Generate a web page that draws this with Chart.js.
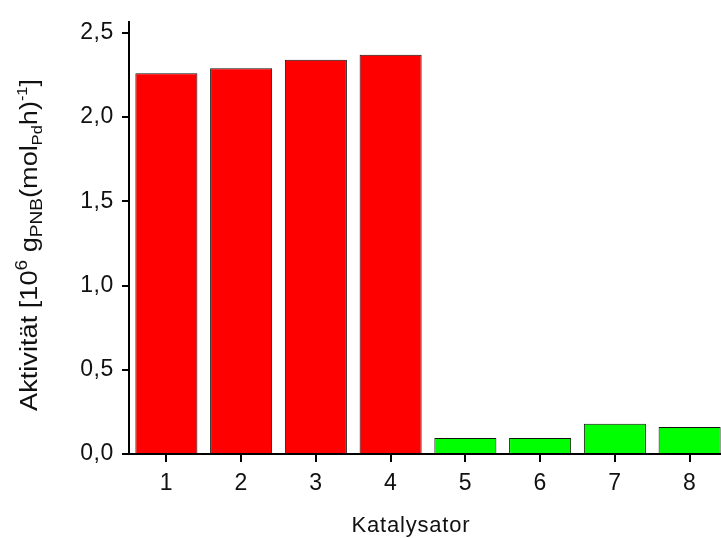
<!DOCTYPE html>
<html>
<head>
<meta charset="utf-8">
<script src="https://cdn.jsdelivr.net/npm/chart.js@4"></script>
<style>
  html, body { margin: 0; padding: 0; background: #fff; overflow: hidden; }
  canvas { display: block; }
</style>
</head>
<body>
<canvas id="chart" width="730" height="538"></canvas>
<script>
  // Katalysator-Aktivitaeten
  const categories = ['1', '2', '3', '4', '5', '6', '7', '8'];
  const activity = [2.26, 2.29, 2.34, 2.37, 0.095, 0.095, 0.18, 0.16];
  const yTicks = [0, 0.5, 1.0, 1.5, 2.0, 2.5];
  const xTitle = 'Katalysator';
  // y-Achsentitel in Stuecken: normal / hoch / tief
  const yTitleParts = [
    ['Aktivität [10', 'n'],
    ['6', 'sup'],
    [' g', 'n'],
    ['PNB', 'sub'],
    ['(mol', 'n'],
    ['Pd', 'sub2'],
    ['h)', 'n'],
    ['-1', 'sup2'],
    [']', 'n'],
  ];

  const FONT = '"Liberation Sans", Arial, Helvetica, sans-serif';

  function fmt(v) {
    return v.toFixed(1).replace('.', ',');
  }

  const titlesPlugin = {
    id: 'titles',
    beforeDraw(chart) {
      chart.ctx.letterSpacing = '0.6px';
    },
    afterDraw(chart) {
      const ctx = chart.ctx;
      ctx.save();
      ctx.fillStyle = '#111';
      ctx.textBaseline = 'alphabetic';
      ctx.textAlign = 'left';

      // x title
      ctx.font = '22px ' + FONT;
      ctx.letterSpacing = '0.8px';
      const w = ctx.measureText(xTitle).width;
      ctx.fillText(xTitle, 411 - w / 2, 532);

      // y title, rotated
      ctx.letterSpacing = '0px';
      const base = 23;
      const styles = {
        n: { size: base, dy: 0 },
        sup: { size: base * 0.7, dy: -base * 0.45 },
        sup2: { size: base * 0.6, dy: -base * 0.45 },
        sub: { size: base * 0.7, dy: base * 0.22 },
        sub2: { size: base * 0.6, dy: base * 0.22 },
      };
      let total = 0;
      yTitleParts.forEach(([t, s]) => {
        ctx.font = styles[s].size + 'px ' + FONT;
        total += ctx.measureText(t).width;
      });
      const targetLen = 332;
      const k = targetLen / total;
      ctx.translate(37, 245);
      ctx.rotate(-Math.PI / 2);
      ctx.scale(k, 1);
      let x = -total / 2;
      yTitleParts.forEach(([t, s]) => {
        ctx.font = styles[s].size + 'px ' + FONT;
        ctx.fillText(t, x, styles[s].dy);
        x += ctx.measureText(t).width;
      });
      ctx.restore();
    },
  };

  new Chart(document.getElementById('chart'), {
    type: 'bar',
    data: {
      labels: categories,
      datasets: [{
        data: activity,
        backgroundColor: (c) => (c.dataIndex < 4 ? '#ff0000' : '#00ff00'),
        borderColor: '#111',
        borderWidth: 1,
        categoryPercentage: 1,
        barPercentage: 0.83,
      }],
    },
    options: {
      responsive: false,
      animation: false,
      layout: { padding: { top: 18, right: 3, left: 0, bottom: 0 } },
      plugins: {
        legend: { display: false },
        tooltip: { enabled: false },
      },
      scales: {
        x: {
          afterFit: (s) => { s.height = 84; },
          border: { display: true, color: '#000', width: 2 },
          grid: {
            offset: false,
            drawOnChartArea: false,
            drawTicks: true,
            tickLength: 8,
            color: '#000',
            lineWidth: 2,
          },
          ticks: {
            color: '#111',
            padding: 8,
            font: { family: FONT, size: 23 },
            maxRotation: 0,
          },
        },
        y: {
          min: 0,
          max: 2.565,
          afterFit: (s) => { s.width = 129; },
          afterBuildTicks: (s) => { s.ticks = yTicks.map((v) => ({ value: v })); },
          border: { display: true, color: '#000', width: 2 },
          grid: {
            drawOnChartArea: false,
            drawTicks: true,
            tickLength: 7,
            color: '#000',
            lineWidth: 2,
          },
          ticks: {
            color: '#111',
            padding: 8,
            font: { family: FONT, size: 23 },
            callback: (v) => fmt(v),
          },
        },
      },
    },
    plugins: [titlesPlugin],
  });
</script>
</body>
</html>
